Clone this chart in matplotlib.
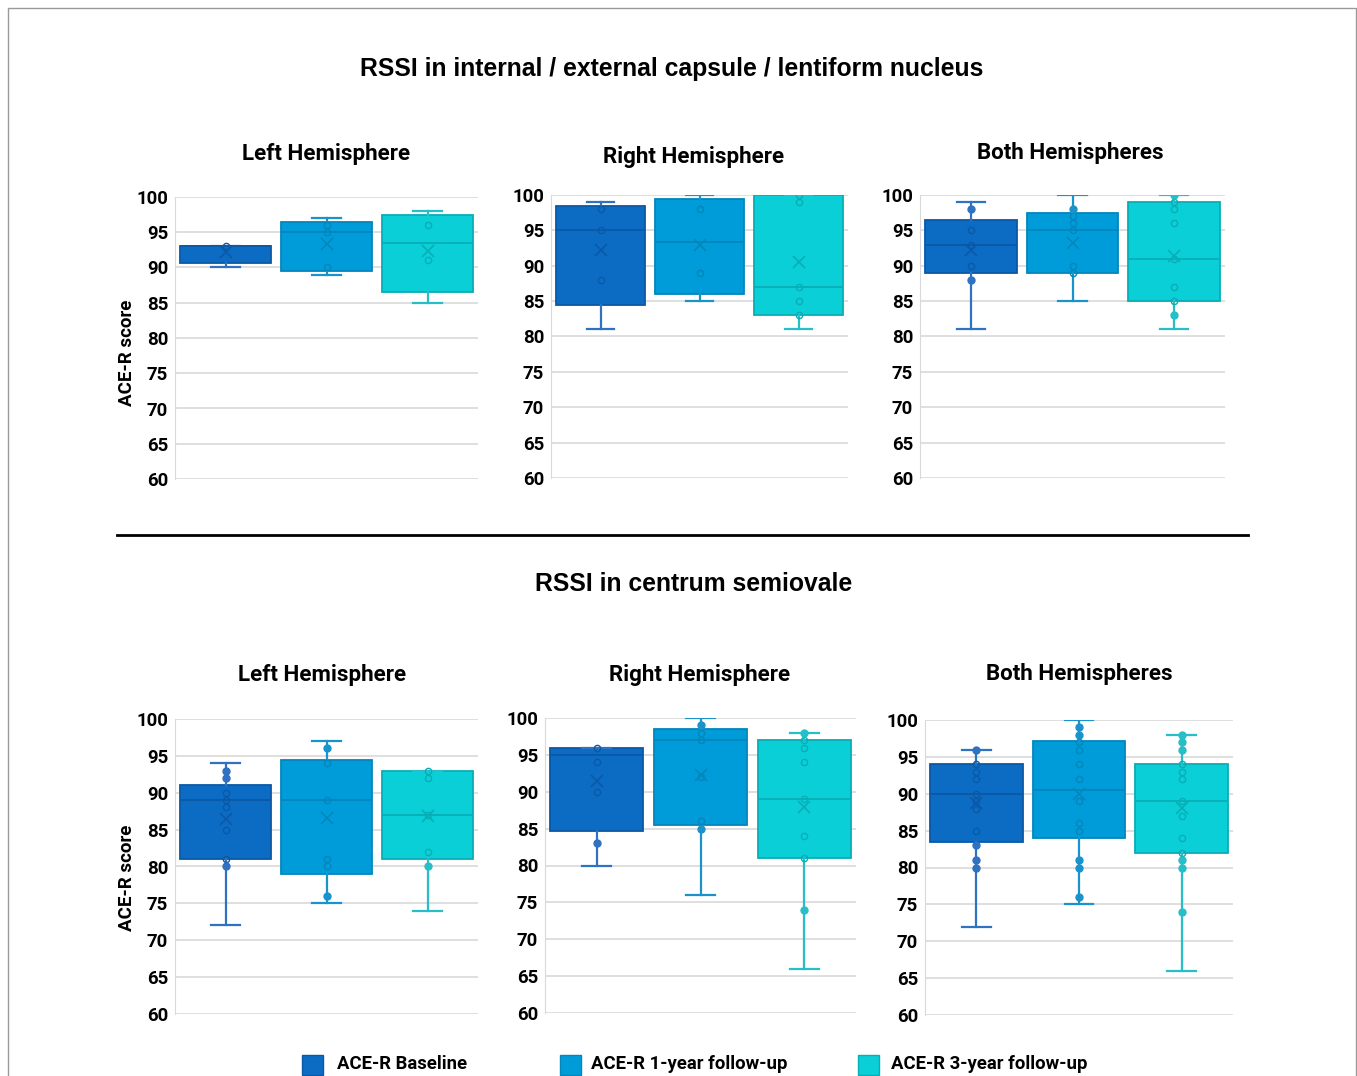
import matplotlib.pyplot as plt
from matplotlib.patches import Rectangle
from matplotlib.lines import Line2D

plt.rcParams['font.family'] = ['Roboto', 'DejaVu Sans']

groups = ["ACE-R Baseline", "ACE-R 1-year follow-up", "ACE-R 3-year follow-up"]
panel_titles = ["Left Hemisphere", "Right Hemisphere", "Both Hemispheres"]
yticks = [60, 65, 70, 75, 80, 85, 90, 95, 100]

fills = ["#0C6CC4", "#009CD9", "#0BCFD7"]
edges = ["#0A59A6", "#0386BC", "#08AEB6"]
whisk = ["#2F72C2", "#1A93CC", "#27BFC7"]

# top row: internal / external capsule / lentiform nucleus
top_left = {"whislo": [90, 89, 85], "q1": [90.7, 89.5, 86.5], "med": [93, 95, 93.5],
            "q3": [93, 96.5, 97.5], "whishi": [93, 97, 98], "mean": [92.2, 93.4, 92.4]}
top_left_pts = [[93], [96, 95, 90], [96, 91]]

top_right = {"whislo": [81, 85, 81], "q1": [84.5, 86, 83], "med": [95, 93.4, 87],
             "q3": [98.5, 99.4, 100], "whishi": [99, 100, 100], "mean": [92.2, 92.9, 90.6]}
top_right_pts = [[98, 95, 88], [98, 89], [100, 99, 87, 85, 83]]

top_both = {"whislo": [81, 85, 81], "q1": [89, 89, 85], "med": [93, 95, 91],
            "q3": [96.5, 97.5, 99], "whishi": [99, 100, 100], "mean": [92.2, 93.2, 91.4]}
top_both_pts = [[98, 95, 93, 90, 88], [98, 97, 96, 95, 90, 89], [100, 99, 98, 96, 91, 87, 85, 83]]

# bottom row: centrum semiovale
bot_left = {"whislo": [72, 75, 74], "q1": [81, 79, 81], "med": [89, 89, 87],
            "q3": [91, 94.5, 93], "whishi": [94, 97, 93], "mean": [86.5, 86.6, 86.8]}
bot_left_pts = [[93, 92, 90, 89, 88, 85, 81, 80], [96, 94, 89, 81, 80, 76], [93, 92, 87, 82, 80]]

bot_right = {"whislo": [80, 76, 66], "q1": [84.7, 85.5, 81], "med": [95, 97, 89],
             "q3": [96, 98.5, 97], "whishi": [96, 100, 98], "mean": [91.4, 92.3, 87.9]}
bot_right_pts = [[96, 94, 90, 83], [99, 98, 97, 92, 86, 85], [98, 97, 96, 94, 89, 84, 81, 74]]

bot_both = {"whislo": [72, 75, 66], "q1": [83.5, 84, 82], "med": [90, 90.5, 89],
            "q3": [94, 97.2, 94], "whishi": [96, 100, 98], "mean": [88.8, 90.0, 88.1]}
bot_both_pts = [[96, 94, 93, 92, 90, 89, 88, 85, 83, 81, 80],
                [99, 98, 97, 96, 94, 92, 89, 86, 85, 81, 80, 76],
                [98, 97, 96, 94, 93, 92, 89, 87, 84, 82, 81, 80, 74]]

W, H = 1357, 1076


def px_rect(x0, top, x1, bottom):
    return [x0 / W, 1 - bottom / H, (x1 - x0) / W, (bottom - top) / H]


def draw_panel(ax, stats, points):
    for i in range(3):
        s = {k: stats[k][i] for k in stats}
        s["fliers"] = []
        ax.bxp([s], positions=[i + 1], widths=0.9, capwidths=0.28,
               patch_artist=True, showmeans=True, showfliers=False,
               boxprops=dict(facecolor=fills[i], edgecolor=edges[i], linewidth=1.3),
               medianprops=dict(color=edges[i], linewidth=1.3),
               whiskerprops=dict(color=whisk[i], linewidth=1.6),
               capprops=dict(color=whisk[i], linewidth=1.6),
               meanprops=dict(marker="x", markeredgecolor=edges[i], markersize=9,
                              markeredgewidth=1.2, linestyle="none"))
        inside = [p for p in points[i] if s["q1"] <= p <= s["q3"]]
        outside = [p for p in points[i] if not (s["q1"] <= p <= s["q3"])]
        ax.plot([i + 1] * len(inside), inside, "o", mfc="none", mec=edges[i],
                ms=4.5, mew=1, zorder=4)
        ax.plot([i + 1] * len(outside), outside, "o", mfc=whisk[i], mec=whisk[i],
                ms=5, zorder=4)
    ax.set_xlim(0.5, 3.5)
    ax.set_ylim(60, 100)
    ax.set_yticks(yticks, labels=[str(t) for t in yticks], fontweight="bold", fontsize=13.4)
    ax.set_xticks([])
    ax.grid(axis="y", color="#D9D9D9", linewidth=1.2)
    ax.set_axisbelow(True)
    for sp in ["top", "right", "bottom"]:
        ax.spines[sp].set_visible(False)
    ax.spines["left"].set_color("#D9D9D9")
    ax.tick_params(axis="y", length=0, pad=5)


fig = plt.figure(figsize=(W / 100, H / 100), dpi=100)

panels = [
    (px_rect(175, 197, 478, 479), top_left, top_left_pts, 0, (326, 154)),
    (px_rect(551, 195, 848, 478), top_right, top_right_pts, 1, (694, 157)),
    (px_rect(920, 195, 1225, 478), top_both, top_both_pts, 2, (1070, 153)),
    (px_rect(175, 719, 478, 1014), bot_left, bot_left_pts, 0, (322, 675)),
    (px_rect(545, 718, 856, 1013), bot_right, bot_right_pts, 1, (700, 675)),
    (px_rect(925, 720, 1233, 1015), bot_both, bot_both_pts, 2, (1079, 674)),
]

for rect, stats, pts, t, (tx, ty) in panels:
    ax = fig.add_axes(rect)
    draw_panel(ax, stats, pts)
    fig.text(tx / W, 1 - ty / H, panel_titles[t], ha="center", va="center",
             fontsize=16.1, fontweight="bold")

# y labels on left panels
fig.text(127 / W, 1 - 353 / H, "ACE-R score", rotation=90, ha="center", va="center",
         fontsize=13.5, fontweight="bold")
fig.text(127 / W, 1 - 878 / H, "ACE-R score", rotation=90, ha="center", va="center",
         fontsize=13.5, fontweight="bold")

# section titles
fig.text(672 / W, 1 - 69 / H, "RSSI in internal / external capsule / lentiform nucleus",
         ha="center", va="center", fontsize=17.8, fontweight="bold", family="Liberation Sans")
fig.text(694 / W, 1 - 584 / H, "RSSI in centrum semiovale",
         ha="center", va="center", fontsize=17.8, fontweight="bold", family="Liberation Sans")

# separator line
fig.add_artist(Line2D([117 / W, 1248 / W], [1 - 535 / H, 1 - 535 / H], color="black", lw=2))

# frame
fig.add_artist(Rectangle((8 / W, -0.01), 1348 / W, 1.01 - 8 / H, transform=fig.transFigure,
                         fill=False, edgecolor="#9A9A9A", lw=1))

# legend
leg_x = [302, 560, 858]
leg_text_x = [337, 591, 891]
for i, name in enumerate(groups):
    fig.add_artist(Rectangle((leg_x[i] / W, 1 - 1075 / H), 21 / W, 20 / H,
                             transform=fig.transFigure, facecolor=fills[i],
                             edgecolor=edges[i], lw=1))
    fig.text(leg_text_x[i] / W, 1 - 1064 / H, name, ha="left", va="center",
             fontsize=13.3, fontweight="bold")

fig.savefig("out.png", dpi=100)
